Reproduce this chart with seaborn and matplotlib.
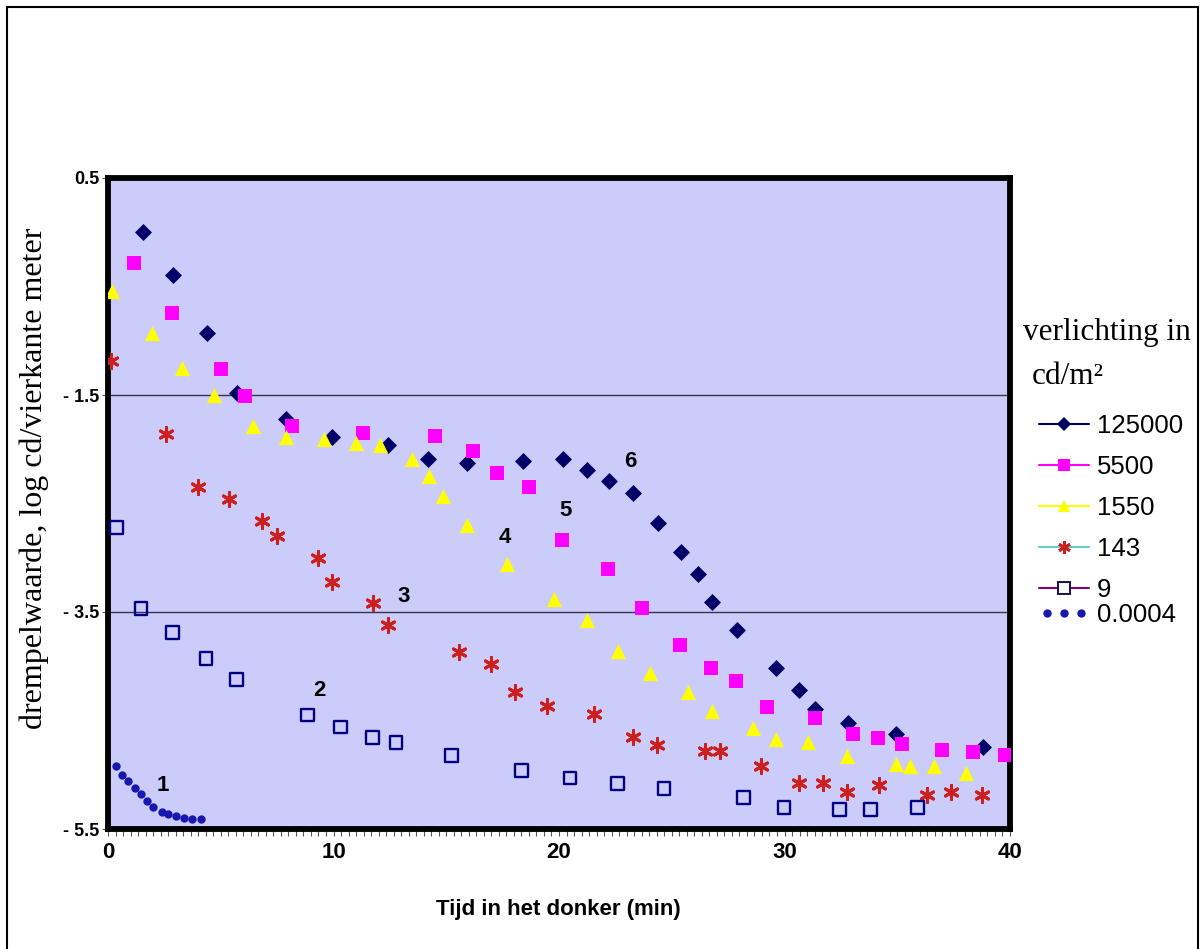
import warnings
import numpy as np
import pandas as pd
import matplotlib
matplotlib.use('Agg')
import matplotlib.pyplot as plt
from matplotlib.lines import Line2D
from matplotlib.legend_handler import HandlerLine2D
from matplotlib.patches import Rectangle
import seaborn as sns

warnings.filterwarnings('ignore')

# donkeradaptatie: drempelwaarde (log cd/m2) tegen tijd in het donker (min)
t_125000 = [1.54, 2.90, 4.38, 5.73, 7.89, 9.95, 12.40, 14.20, 15.91, 18.39, 20.16, 21.26, 22.23,
            23.30, 24.37, 25.41, 26.15, 26.80, 27.88, 29.61, 30.64, 31.35, 32.80, 34.94, 38.79]
v_125000 = [0.0, -0.39, -0.93, -1.48, -1.72, -1.89, -1.96, -2.09, -2.13, -2.11, -2.09, -2.19, -2.29,
            -2.40, -2.68, -2.95, -3.15, -3.41, -3.67, -4.02, -4.22, -4.39, -4.52, -4.62, -4.74]

t_5500 = [1.15, 2.85, 5.00, 6.08, 8.17, 11.32, 14.50, 16.20, 17.27, 18.67, 20.15, 22.19, 23.67,
          25.37, 26.74, 27.84, 29.21, 31.35, 33.05, 34.13, 35.19, 37.00, 38.37, 39.78]
v_5500 = [-0.28, -0.74, -1.26, -1.51, -1.79, -1.85, -1.88, -2.02, -2.22, -2.35, -2.84, -3.10, -3.46,
          -3.80, -4.02, -4.14, -4.38, -4.48, -4.62, -4.66, -4.72, -4.77, -4.79, -4.82]

t_1550 = [0.16, 1.94, 3.30, 4.71, 6.42, 7.88, 9.59, 11.00, 12.06, 13.47, 14.24, 14.84, 15.94, 17.71,
          19.78, 21.26, 22.63, 24.04, 25.73, 26.80, 28.62, 29.61, 31.06, 32.79, 34.94, 35.57, 36.63, 38.03]
v_1550 = [-0.54, -0.93, -1.25, -1.50, -1.79, -1.89, -1.91, -1.94, -1.96, -2.09, -2.25, -2.43, -2.70, -3.06,
          -3.38, -3.57, -3.86, -4.06, -4.24, -4.41, -4.57, -4.67, -4.70, -4.83, -4.90, -4.92, -4.92, -4.98]

t_143 = [0.13, 2.57, 3.98, 5.37, 6.84, 7.48, 9.30, 9.95, 11.77, 12.40, 15.58, 16.98, 18.05, 19.45,
         21.55, 23.30, 24.36, 26.47, 27.14, 28.94, 30.64, 31.72, 32.79, 34.19, 36.30, 37.37, 38.77]
v_143 = [-1.19, -1.86, -2.35, -2.46, -2.66, -2.80, -3.00, -3.22, -3.42, -3.62, -3.87, -3.98, -4.24, -4.37,
         -4.44, -4.65, -4.73, -4.78, -4.78, -4.92, -5.08, -5.08, -5.16, -5.09, -5.19, -5.16, -5.19]

t_9 = [0.38, 1.46, 2.85, 4.35, 5.71, 8.86, 10.32, 11.72, 12.77, 15.24, 18.35, 20.49, 22.59, 24.66,
       28.17, 29.98, 32.43, 33.82, 35.91]
v_9 = [-2.72, -3.47, -3.69, -3.93, -4.12, -4.45, -4.56, -4.66, -4.70, -4.82, -4.96, -5.03, -5.08, -5.13,
       -5.21, -5.30, -5.32, -5.32, -5.30]

t_00004 = [0.34, 0.63, 0.90, 1.20, 1.46, 1.72, 2.01, 2.38, 2.65, 3.01, 3.39, 3.74, 4.11]
v_00004 = [-4.92, -5.00, -5.06, -5.12, -5.18, -5.24, -5.30, -5.34, -5.36, -5.38, -5.40, -5.41, -5.41]

curve_nrs = ['1', '2', '3', '4', '5', '6']
curve_x = [2.45, 9.37, 13.1, 17.58, 20.30, 23.15]
curve_y = [-5.10, -4.22, -3.36, -2.81, -2.56, -2.11]

ytick_vals = [0.5, -1.5, -3.5, -5.5]
ytick_labels = ['0.5', '- 1.5', '- 3.5', '- 5.5']
xtick_vals = [0, 10, 20, 30, 40]

sns.set_style('white')
plt.rcParams['font.family'] = ['Liberation Sans', 'DejaVu Sans']
plt.rcParams['text.color'] = 'black'
plt.rcParams['xtick.color'] = 'black'
plt.rcParams['ytick.color'] = 'black'

fig = plt.figure(figsize=(12.01, 9.49), dpi=100)
ax = fig.add_axes([108 / 1201, 1 - 829 / 949, 902 / 1201, 651 / 949])
ax.set_facecolor('#ccccfa')

navy = '#000066'
red = '#cc2020'
sns.scatterplot(x=t_125000, y=v_125000, ax=ax, marker='D', s=75, color=navy, linewidth=0, zorder=5)
sns.scatterplot(x=t_5500, y=v_5500, ax=ax, marker='s', s=100, color='#ff00ff', linewidth=0, zorder=5)
sns.scatterplot(x=t_1550, y=v_1550, ax=ax, marker='^', s=120, color='#ffff00', linewidth=0, zorder=5)
sns.scatterplot(x=t_143, y=v_143, ax=ax, marker=(6, 2, 0), s=100, color=red, linewidth=2.2, zorder=5)
sns.scatterplot(x=t_9, y=v_9, ax=ax, marker='s', s=85, facecolor='none', edgecolor='#000080',
                linewidth=1.7, zorder=5)
sns.scatterplot(x=t_00004, y=v_00004, ax=ax, marker='o', s=36, color='#1818b0', linewidth=0, zorder=5)

for nr, x, y in zip(curve_nrs, curve_x, curve_y):
    ax.text(x, y, nr, fontsize=16, fontweight='bold', ha='center', va='center', color='black', zorder=6)

ax.set_xlim(0, 40)
ax.set_ylim(-5.5, 0.5)
ax.set_yticks(ytick_vals)
ax.set_yticklabels(ytick_labels, fontsize=13, fontweight='bold')
ax.set_xticks(xtick_vals)
ax.set_xticklabels([str(v) for v in xtick_vals], fontsize=16, fontweight='bold')
ax.set_xticks(np.arange(0, 40.01, 1 / 3), minor=True)
ax.tick_params(axis='x', which='both', direction='out', length=5, width=0.8, color='#555555', pad=4,
               bottom=True)
ax.tick_params(axis='y', which='major', direction='out', length=4, width=0.8, color='#555555', pad=2,
               left=True)

ax.yaxis.grid(True, color='#333355', linewidth=1.0)
ax.xaxis.grid(False)
for s in ax.spines.values():
    s.set_visible(True)
    s.set_color('black')
    s.set_linewidth(4.2)

ax.set_xlabel('')
ax.set_ylabel('')
fig.text(558 / 1201, 1 - 909 / 949, 'Tijd in het donker (min)', fontsize=16, fontweight='bold',
         ha='center', va='center')
fig.text(34 / 1201, 1 - 478 / 949, 'drempelwaarde, log cd/vierkante meter', fontsize=23,
         family='Liberation Serif', rotation=90, ha='center', va='center')

# legend title
fig.text(1023 / 1201, 1 - 333 / 949, 'verlichting in', fontsize=22.5, family='Liberation Serif',
         ha='left', va='center')
fig.text(1032 / 1201, 1 - 377 / 949, 'cd/m²', fontsize=22.5, family='Liberation Serif',
         ha='left', va='center')

handles = [
    Line2D([], [], color=navy, lw=1.5, marker='D', markersize=7, markerfacecolor=navy, markeredgewidth=0),
    Line2D([], [], color='#ff00ff', lw=1.5, marker='s', markersize=9, markerfacecolor='#ff00ff',
           markeredgewidth=0),
    Line2D([], [], color='#ffff00', lw=1.5, marker='^', markersize=9, markerfacecolor='#ffff00',
           markeredgewidth=0),
    Line2D([], [], color='#66cccc', lw=1.5, marker=(6, 2, 0), markersize=9, markeredgecolor=red,
           markeredgewidth=2),
    Line2D([], [], color='#800080', lw=1.5, marker='s', markersize=8, markerfacecolor='white',
           markeredgecolor='#000040', markeredgewidth=1.3),
]
labels = ['125000', '5500', '1550', '143', '9']
leg = fig.legend(handles, labels, loc='upper left', bbox_to_anchor=(1039 / 1201, 1 - 414 / 949),
                 frameon=False, fontsize=18.5, handlelength=1.95, handletextpad=0.3,
                 labelspacing=0.66, borderpad=0, borderaxespad=0)

dots = Line2D([], [], color='#1818b0', lw=0, marker='o', markersize=6, markeredgewidth=0)
fig.legend([dots], ['0.0004'], loc='upper left', bbox_to_anchor=(1039 / 1201, 1 - 603 / 949),
           frameon=False, fontsize=18.5, handlelength=1.95, handletextpad=0.3, borderpad=0,
           borderaxespad=0, handler_map={dots: HandlerLine2D(numpoints=3)})

fig.add_artist(Rectangle((7 / 1201, -0.01), 1191 / 1201, 1 - 7 / 949 + 0.01, transform=fig.transFigure,
                         fill=False, edgecolor='black', linewidth=1.5))

fig.savefig('out.png', dpi=100)
